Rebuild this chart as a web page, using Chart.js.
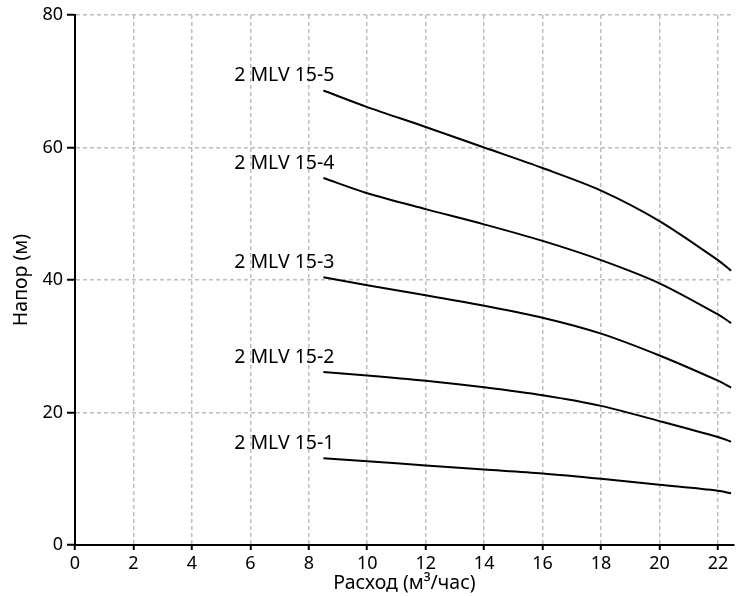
<!DOCTYPE html>
<html>
<head>
<meta charset="utf-8">
<script src="https://cdn.jsdelivr.net/npm/chart.js@4/dist/chart.umd.min.js"></script>
<style>
    body { margin: 0; background: #fff; }
    #wrap { width: 744px; height: 596px; }
</style>
</head>
<body>
<div id="wrap"><canvas id="pumpChart" width="744" height="596"></canvas></div>
<script>
// Flow points (m3/h) where the curves were read
const flow = [8.5, 10, 12, 14, 16, 18, 20, 22, 22.45];

// Head (m) for each pump model
const head5 = [68.6, 66.1, 63.1, 60.0, 56.9, 53.5, 48.9, 43.0, 41.4];
const head4 = [55.4, 53.1, 50.7, 48.4, 45.9, 43.0, 39.5, 34.8, 33.5];
const head3 = [40.4, 39.2, 37.7, 36.1, 34.3, 31.9, 28.6, 24.8, 23.75];
const head2 = [26.1, 25.6, 24.8, 23.8, 22.6, 21.0, 18.7, 16.3, 15.6];
const head1 = [13.1, 12.65, 12.0, 11.4, 10.8, 10.0, 9.1, 8.2, 7.8];

const modelNames = ['2 MLV 15-5', '2 MLV 15-4', '2 MLV 15-3', '2 MLV 15-2', '2 MLV 15-1'];
const xTicks = [0, 2, 4, 6, 8, 10, 12, 14, 16, 18, 20, 22];
const yTicks = [0, 20, 40, 60, 80];

const FONT = '"Noto Sans", "Open Sans", sans-serif';

function toPoints(ys) {
    return flow.map((x, i) => ({ x: x, y: ys[i] }));
}

// Puts the model name above/left of the first point of each curve
const curveLabels = {
    id: 'curveLabels',
    afterDatasetsDraw(chart) {
        const ctx = chart.ctx;
        ctx.save();
        ctx.font = '19.5px ' + FONT;
        ctx.fillStyle = '#000';
        ctx.textAlign = 'right';
        ctx.textBaseline = 'middle';
        chart.data.datasets.forEach((ds, i) => {
            const pt = chart.getDatasetMeta(i).data[0];
            ctx.fillText(ds.label, pt.x + 11, pt.y - 15);
        });
        ctx.restore();
    }
};

const series = [head5, head4, head3, head2, head1];

new Chart(document.getElementById('pumpChart'), {
    type: 'line',
    data: {
        datasets: series.map((ys, i) => ({
            label: modelNames[i],
            data: toPoints(ys),
            borderColor: '#000',
            borderWidth: 2,
            pointRadius: 0,
            fill: false,
            tension: 0.3
        }))
    },
    options: {
        responsive: false,
        animation: false,
        layout: { padding: { top: 15, right: 10, left: 0, bottom: 0 } },
        plugins: {
            legend: { display: false },
            tooltip: { enabled: false }
        },
        scales: {
            x: {
                type: 'linear',
                min: 0,
                max: 22.55,
                afterBuildTicks: (scale) => { scale.ticks = xTicks.map(v => ({ value: v })); },
                afterFit: (scale) => { scale.height = 51; },
                ticks: {
                    color: '#000',
                    font: { family: FONT, size: 18 },
                    padding: 3,
                    maxRotation: 0
                },
                grid: {
                    color: '#bdbdbd',
                    lineWidth: 1.5,
                    tickColor: '#000',
                    tickLength: 5,
                    tickWidth: 2
                },
                border: { display: true, color: '#000', width: 2, dash: [4, 3] },
                title: {
                    display: true,
                    text: 'Расход (м³/час)',
                    color: '#000',
                    font: { family: FONT, size: 19.5 },
                    padding: { top: 0, bottom: 1 }
                }
            },
            y: {
                min: 0,
                max: 80,
                afterBuildTicks: (scale) => { scale.ticks = yTicks.map(v => ({ value: v })); },
                afterFit: (scale) => { scale.width = 75; },
                ticks: {
                    color: '#000',
                    font: { family: FONT, size: 18 },
                    padding: 4
                },
                grid: {
                    color: '#bdbdbd',
                    lineWidth: 1.5,
                    tickColor: '#000',
                    tickLength: 8,
                    tickWidth: 2
                },
                border: { display: true, color: '#000', width: 2, dash: [4, 3] },
                title: {
                    display: true,
                    text: 'Напор (м)',
                    color: '#000',
                    font: { family: FONT, size: 19.5 },
                    padding: { top: 10, bottom: 0 }
                }
            }
        }
    },
    plugins: [curveLabels]
});
</script>
</body>
</html>
